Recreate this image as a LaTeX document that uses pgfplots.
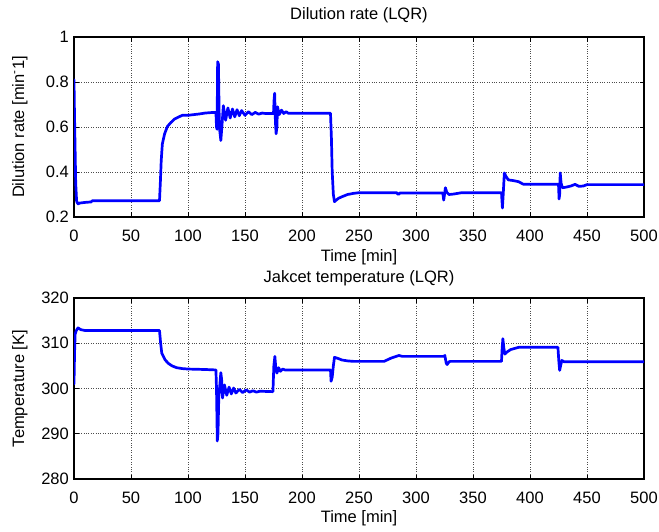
\documentclass[border=0pt]{standalone}
\usepackage{fontspec}
\setmainfont{Liberation Sans}
\usepackage{pgfplots}
\pgfplotsset{compat=1.18}
\pgfplotsset{
  mlstyle/.style={
    scale only axis, width=570pt, no markers,
    xmin=0, xmax=500, xtick={0,50,...,500},
    grid=major, grid style={dotted, line width=0.75pt, black!70},
    tick align=inside, tick pos=both, major tick length=4.5pt,
    axis line style={line width=1.1pt, black},
    tick style={black, line width=0.8pt},
    font=\fontsize{16.5}{19}\selectfont,
    /pgf/number format/assume math mode=true,
    xticklabel style={anchor=base, yshift=-24pt, inner sep=0pt},
    yticklabel style={anchor=east, inner sep=0pt, xshift=-5pt},
    title style={anchor=base, inner sep=0pt},
    xlabel style={anchor=base, inner sep=0pt},
    ylabel style={anchor=south, inner sep=0pt},
    every axis plot/.append style={blue, line width=2.7pt, line join=round, line cap=round},
    xlabel={Time [min]},
  }
}
\begin{document}
\begin{tikzpicture}
\useasboundingbox (0pt,0pt) rectangle (659pt,531pt);
\begin{axis}[mlstyle, at={(74pt,314pt)}, anchor=south west, height=180pt,
  ymin=0.2, ymax=1, ytick={0.2,0.4,0.6,0.8,1},
  yticklabels={0.2,0.4,0.6,0.8,1},
  title={Dilution rate (LQR)},
  title style={at={(axis description cs:0.5,1.065)}},
  xlabel style={at={(axis description cs:0.5,-0.25)}},
  ylabel={Dilution rate [min\textsuperscript{-}1]},
  ylabel style={at={(axis description cs:-0.081,0.5)}},
]
\addplot coordinates {
(0,0.81) (0.3,0.70) (0.8,0.55) (1.5,0.35) (2.3,0.27) (3.5,0.258) (5,0.262)
(10,0.265) (15,0.267) (16,0.272) (75,0.272) (75.8,0.36) (76.5,0.45)
(77.5,0.525) (79.5,0.57) (82,0.603) (85,0.62) (88,0.635) (92,0.645)
(95,0.652) (100,0.652) (105,0.655) (110,0.658) (115,0.662) (120,0.664)
(124.5,0.665) (125,0.60) (125.5,0.59) (126,0.89) (126.7,0.88) (127.5,0.60)
(128.8,0.54) (130,0.62) (131,0.695) (132,0.66) (133,0.63) (135,0.685)
(137,0.64) (139,0.68) (141,0.645) (143,0.677) (145,0.65) (147,0.673)
(150,0.652) (153,0.668) (156,0.655) (159,0.665) (162,0.657) (165,0.662)
(168,0.66) (175,0.66) (175.5,0.72) (176,0.75) (176.7,0.62) (177.3,0.57)
(178,0.60) (178.5,0.69) (180,0.655) (182,0.675) (184,0.66) (186,0.668)
(188,0.661) (225,0.661) (225.8,0.55) (226.5,0.40) (227.5,0.30)
(228.5,0.268) (230,0.275) (232,0.283) (235,0.29) (240,0.30) (245,0.305)
(250,0.308) (283,0.308) (284.5,0.300) (286,0.307) (323.5,0.307)
(324.3,0.275) (325,0.30) (325.8,0.33) (327,0.31) (329,0.30) (333,0.302)
(340,0.308) (375,0.308) (375.8,0.24) (376.5,0.30) (377.5,0.396)
(379,0.38) (381,0.365) (385,0.362) (390,0.357) (394,0.346) (425,0.346)
(425.5,0.28) (426,0.30) (426.5,0.396) (427.3,0.35) (428.5,0.33)
(432,0.333) (436,0.338) (439.5,0.345) (443,0.336) (447,0.338)
(450,0.344) (500,0.344)
};
\end{axis}
\begin{axis}[mlstyle, at={(74pt,52pt)}, anchor=south west, height=181pt,
  ymin=280, ymax=320, ytick={280,290,...,320},
  title={Jakcet temperature (LQR)},
  title style={at={(axis description cs:0.5,1.05)}},
  xlabel style={at={(axis description cs:0.5,-0.242)}},
  ylabel={Temperature [K]},
  ylabel style={at={(axis description cs:-0.081,0.5)}},
]
\addplot coordinates {
(0,301) (0.5,308) (1,312) (2,312.8) (3.5,313.4) (6,313.0) (10,312.8)
(75,312.8) (76,310) (77,307.8) (80,306.3) (83,305.5) (86,305) (90,304.6)
(95,304.4) (100,304.3) (115,304.2) (124.5,304.1) (125,300) (125.7,288.4)
(126.3,290) (127,298) (128.8,303.5) (129.5,302) (130.3,297.9) (132,300.8)
(134,298.5) (136,300.3) (138,298.8) (140,300.1) (142,299) (145,299.8)
(148,299.1) (151,299.7) (154,299.2) (157,299.5) (160,299.2) (163,299.4)
(174.5,299.3) (175.3,305) (176.2,307.1) (177.2,304) (178,303.4)
(179.5,304.6) (181,303.8) (183,304.3) (185,304.1) (225,304.1)
(225.5,301.6) (226.5,302.5) (227.5,305) (228.5,306.9) (232,306.6)
(235,306.3) (240,306.1) (245,306.0) (272,306.0) (278,306.7) (285,307.3)
(288,307.1) (324.5,307.1) (325.3,307.3) (326.5,305.6) (327.3,305.3)
(329,305.9) (330,306) (375,306) (375.6,309) (376.2,311) (377,309)
(378,307.6) (380,308.1) (383,308.6) (390,309.1) (424.5,309.1)
(425.3,306) (426,304) (426.8,305) (428,306.2) (430,305.9) (500,305.9)
};
\end{axis}
\end{tikzpicture}
\end{document}
